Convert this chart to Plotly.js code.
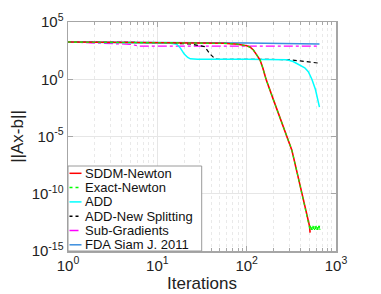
<!DOCTYPE html>
<html><head><meta charset="utf-8">
<script src="https://cdn.plot.ly/plotly-3.0.1.min.js"></script>
<style>html,body{margin:0;padding:0;background:#fff;}#chart{width:381px;height:294px;}</style>
</head><body><div id="chart"></div>
<script>
// ---- data ----
const seriesNames = ["SDDM-Newton","Exact-Newton","ADD","ADD-New Splitting","Sub-Gradients","FDA Siam J. 2011"];

const xTickVals = [1, 10, 100, 1000];
const xTickText = ["10<sup>0</sup>", "10<sup>1</sup>", "10<sup>2</sup>", "10<sup>3</sup>"];
const yTickVals = [1e-15, 1e-10, 1e-5, 1, 1e5];
const yTickText = ["10<sup>-15</sup>", "10<sup>-10</sup>", "10<sup>-5</sup>", "10<sup>0</sup>", "10<sup>5</sup>"];

const sddmX = [1, 10, 31.6, 55, 79.4, 91.8, 100, 109.6, 118.9, 128.8, 141.3, 151.4, 164.8, 199.5, 239.9, 281.2, 319.9, 363.1, 414, 457.1, 504.7, 512.9];
const sddmY = [1778, 1660, 1514, 1380, 1148, 977, 832, 631, 363, 141, 47.9, 10, 1, 1.58e-2, 3.16e-4, 1e-5, 6.8e-7, 1e-8, 1e-10, 4e-12, 1.6e-13, 4e-14];

const exactX = [1, 10, 31.6, 55, 79.4, 91.8, 100, 109.6, 118.9, 128.8, 141.3, 151.4, 164.8, 199.5, 239.9, 281.2, 319.9, 363.1, 414, 457.1, 504.7,
  512, 520, 527, 535, 543, 551, 559, 567, 575, 584, 592, 601, 610, 619, 628, 637, 646, 655, 661];
const exactY = [1778, 1660, 1514, 1380, 1148, 977, 832, 631, 363, 141, 47.9, 10, 1, 1.58e-2, 3.16e-4, 1e-5, 6.8e-7, 1e-8, 1e-10, 4e-12, 1.6e-13,
  7e-14, 1.6e-13, 7e-14, 1.6e-13, 7e-14, 1.6e-13, 7e-14, 1.6e-13, 7e-14, 1.6e-13, 7e-14, 1.6e-13, 7e-14, 1.6e-13, 7e-14, 1.6e-13, 7e-14, 1.6e-13, 7e-14];

const addX = [1, 10, 14.1, 16.6, 18.2, 20, 21.9, 23.4, 28.2, 100, 281.8, 331.1, 398.1, 446.7, 489.8, 537, 588.8, 631, 653];
const addY = [1778, 1585, 1413, 1122, 501, 158, 79.4, 60.3, 56.2, 55, 50.1, 35.5, 17.8, 10, 4.57, 1, 0.126, 0.0158, 0.00363];

const splitX = [1, 10, 23.4, 33.9, 38.9, 44.7, 100, 281.8, 398.1, 653];
const splitY = [1778, 1585, 1202, 708, 158, 56.2, 55, 52.5, 39.8, 25.1];

const subgX = [1, 3.16, 5.0, 6.3, 10, 100, 653];
const subgY = [1778, 1413, 1122, 794, 794, 794, 794];

const fdaX = [1, 10, 100, 653];
const fdaY = [1778, 1660, 1479, 1202];

// ---- styles ----
const colors = ["#ff0000", "#00ff00", "#00ffff", "#000000", "#ff00ff", "#3b8ede"];
const dashes = ["solid", "dot", "solid", "4px,3px", "dashdot", "solid"];
const widths = [1.6, 1.1, 1.5, 1.2, 1.2, 1.5];

const xs = [sddmX, exactX, addX, splitX, subgX, fdaX];
const ys = [sddmY, exactY, addY, splitY, subgY, fdaY];
// draw order: bottom to top
const order = [5, 4, 3, 2, 0, 1];
const traces = order.map(i => ({
  x: xs[i], y: ys[i], type: "scatter", mode: "lines", name: seriesNames[i],
  line: {color: colors[i], dash: dashes[i], width: widths[i]}, showlegend: false
}));

// ---- custom legend (MATLAB-like compact box) ----
const W = 268, H = 229;
const shapes = [{type: "rect", xref: "paper", yref: "paper", x0: 0, y0: 0, x1: (201.7 - 68) / W, y1: (251 - 166) / H,
  fillcolor: "#ffffff", line: {color: "#9a9a9a", width: 1}, layer: "above"}];
const annotations = [];
seriesNames.forEach((n, i) => {
  const yc = (251 - (173.3 + 14.3 * i)) / H;
  shapes.push({type: "line", xref: "paper", yref: "paper", x0: 1.5 / W, x1: 13.5 / W, y0: yc, y1: yc,
    line: {color: colors[i], dash: dashes[i] === "4px,3px" ? "3px,3px" : dashes[i], width: 1.5}, layer: "above"});
  annotations.push({xref: "paper", yref: "paper", x: 14.5 / W, y: yc, xanchor: "left", yanchor: "middle",
    text: n, showarrow: false, font: {size: 13, color: "#111"}});
});

const axisCommon = {
  type: "log", tickmode: "array", ticks: "inside", ticklen: 5, tickcolor: "#a6a6a6",
  linecolor: "#a6a6a6", linewidth: 1.5, mirror: "ticks", showline: true, zeroline: false,
  gridcolor: "#e6e6e6", gridwidth: 1, tickfont: {size: 15, color: "#222"}
};

const layout = {
  width: 381, height: 294,
  margin: {l: 68, r: 45, t: 22, b: 43, pad: 0},
  paper_bgcolor: "#ffffff", plot_bgcolor: "#ffffff",
  font: {family: "Liberation Sans, Arial, Helvetica, sans-serif", color: "#222"},
  xaxis: Object.assign({}, axisCommon, {
    range: [0, 3], tickvals: xTickVals, ticktext: xTickText,
    minor: {dtick: "D1", ticks: "inside", ticklen: 3, tickcolor: "#a6a6a6", showgrid: true, gridcolor: "#e9e9e9", griddash: "dot"},
    title: {text: "Iterations", font: {size: 17, color: "#222"}, standoff: 4}
  }),
  yaxis: Object.assign({}, axisCommon, {
    range: [-15, 5], tickvals: yTickVals, ticktext: yTickText,
    title: {text: "||Ax-b||", font: {size: 17, color: "#222"}, standoff: 3}
  }),
  shapes: shapes, annotations: annotations, showlegend: false
};

Plotly.newPlot("chart", traces, layout, {staticPlot: true, displayModeBar: false});
</script></body></html>
